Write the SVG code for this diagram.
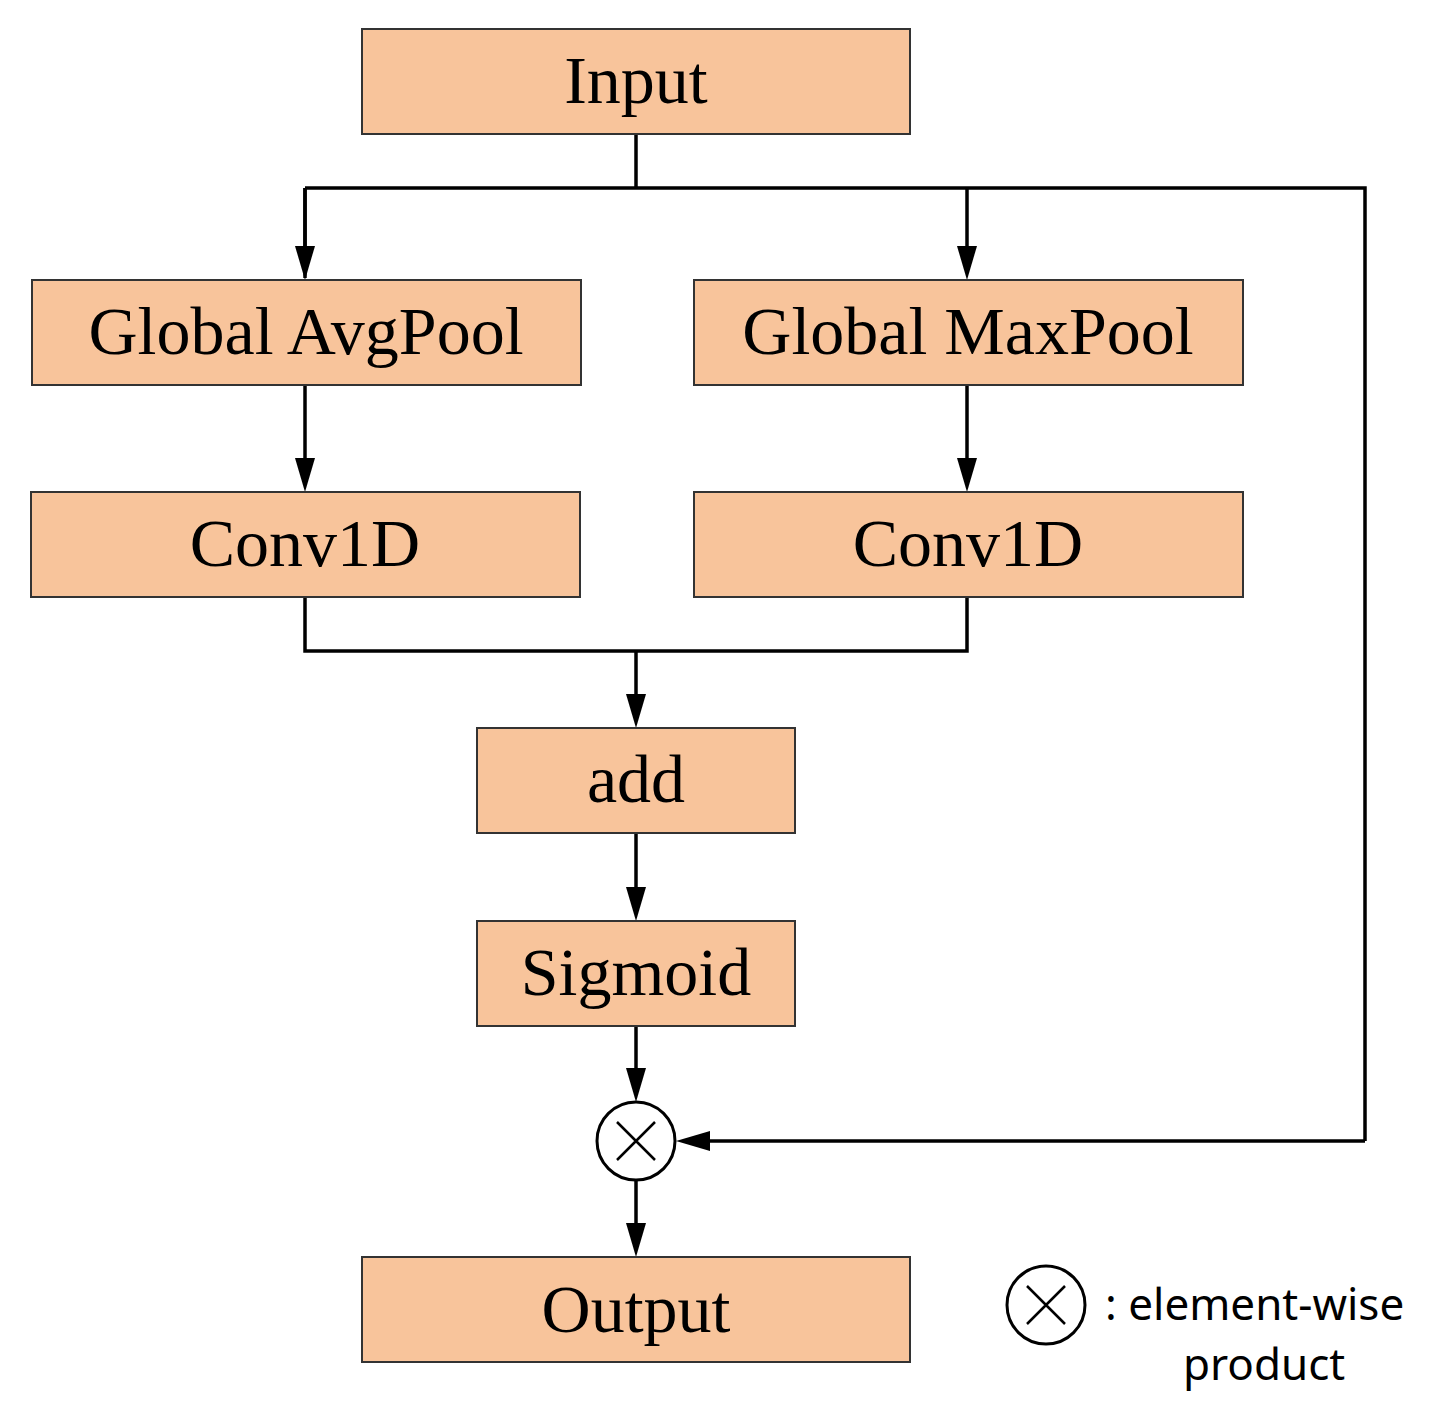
<svg xmlns="http://www.w3.org/2000/svg" width="1453" height="1415" viewBox="0 0 1453 1415">
<defs>
<style>
.box{fill:#F8C49B;stroke:#333;stroke-width:2}
.t{font-family:"Liberation Serif",serif;font-size:68px;text-anchor:middle;fill:#000}
.ln{fill:none;stroke:#000;stroke-width:3.5}
.s{font-family:"Noto Sans","Open Sans",sans-serif;font-size:44px;fill:#000}
</style>
<marker id="a" viewBox="0 0 10 10" refX="10" refY="5" markerWidth="7" markerHeight="7" markerUnits="userSpaceOnUse" orient="auto">
<path d="M0,0 L10,5 L0,10 z" fill="#000"/>
</marker>
</defs>
<rect width="1453" height="1415" fill="#fff"/>
<g id="connectors">
<path class="ln" d="M636,134 V188 M305,188 H1365 V1141"/>
<path class="ln" d="M305,188 V278" marker-end="url(#a)" style="marker-end:none"/>
<path class="ln" d="M305,188 V250"/><path d="M295,246 L315,246 L305,280 z"/>
<path class="ln" d="M967,188 V250"/><path d="M957,246 L977,246 L967,280 z"/>
<path class="ln" d="M1365,1141 H706"/><path d="M710,1131 L710,1151 L676,1141 z"/>
<path class="ln" d="M305,385 V462"/><path d="M295,458 L315,458 L305,492 z"/>
<path class="ln" d="M967,385 V462"/><path d="M957,458 L977,458 L967,492 z"/>
<path class="ln" d="M305,597 V651 H967 V597 M636,651 V698"/><path d="M626,694 L646,694 L636,728 z"/>
<path class="ln" d="M636,833 V891"/><path d="M626,887 L646,887 L636,921 z"/>
<path class="ln" d="M636,1026 V1072"/><path d="M626,1068 L646,1068 L636,1102 z"/>
<path class="ln" d="M636,1180 V1227"/><path d="M626,1223 L646,1223 L636,1257 z"/>
</g>
<g id="input"><rect class="box" x="362" y="29" width="548" height="105"/><text class="t" x="636" y="103">Input</text></g>
<g id="avgpool"><rect class="box" x="32" y="280" width="549" height="105"/><text class="t" x="306" y="354">Global  AvgPool</text></g>
<g id="maxpool"><rect class="box" x="694" y="280" width="549" height="105"/><text class="t" x="968" y="354">Global  MaxPool</text></g>
<g id="conv1"><rect class="box" x="31" y="492" width="549" height="105"/><text class="t" x="305" y="566">Conv1D</text></g>
<g id="conv2"><rect class="box" x="694" y="492" width="549" height="105"/><text class="t" x="968" y="566">Conv1D</text></g>
<g id="add"><rect class="box" x="477" y="728" width="318" height="105"/><text class="t" x="636" y="802">add</text></g>
<g id="sigmoid"><rect class="box" x="477" y="921" width="318" height="105"/><text class="t" x="636" y="995">Sigmoid</text></g>
<g id="product"><circle cx="636" cy="1141" r="39" fill="#fff" stroke="#000" stroke-width="3"/><path class="ln" d="M617,1122 L655,1160 M655,1122 L617,1160" style="stroke-width:2.5"/></g>
<g id="output"><rect class="box" x="362" y="1257" width="548" height="105"/><text class="t" x="636" y="1332">Output</text></g>
<g id="legend"><circle cx="1046" cy="1305" r="39" fill="#fff" stroke="#000" stroke-width="3"/><path class="ln" d="M1027,1286 L1065,1324 M1065,1286 L1027,1324" style="stroke-width:2.5"/>
<text class="s" x="1105" y="1320">: element-wise</text><text class="s" x="1183" y="1380">product</text></g>
</svg>
